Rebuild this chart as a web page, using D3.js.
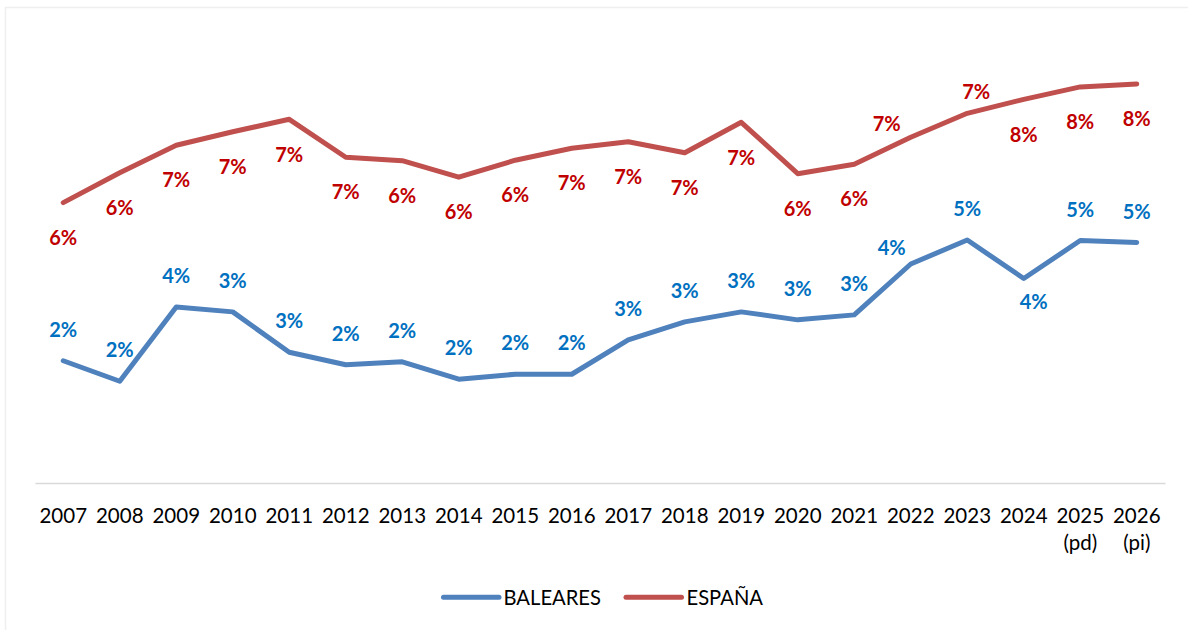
<!DOCTYPE html>
<html>
<head>
<meta charset="utf-8">
<script src="https://cdn.jsdelivr.net/npm/d3@7"></script>
<style>
  html, body { margin: 0; padding: 0; background: #fff; }
  svg { display: block; }
  text { font-family: Lato, "Open Sans", sans-serif; }
</style>
</head>
<body>
<svg id="chart" width="1188" height="630"></svg>
<script>
// ---- data ----
const years = ["2007","2008","2009","2010","2011","2012","2013","2014","2015","2016",
               "2017","2018","2019","2020","2021","2022","2023","2024","2025","2026"];
const yearNotes = ["","","","","","","","","","","","","","","","","","","(pd)","(pi)"];
const baleares = [2.45, 2.04, 3.53, 3.43, 2.62, 2.37, 2.43, 2.08, 2.18, 2.18,
                  2.87, 3.23, 3.43, 3.27, 3.37, 4.39, 4.87, 4.10, 4.86, 4.82];
const espana   = [5.62, 6.22, 6.77, 7.04, 7.29, 6.53, 6.46, 6.13, 6.47, 6.71,
                  6.84, 6.62, 7.23, 6.20, 6.39, 6.93, 7.41, 7.69, 7.94, 8.00];
const seriesNames = ["BALEARES", "ESPAÑA"];

// ---- layout / style ----
const svg = d3.select("#chart");
const W = 1188, H = 630;
const lineColors = ["#4F81BD", "#C0504D"];
const labelColors = ["#0070C0", "#C00000"];
const labelDy = [-31, 35];
const labelAdjust = {
  "0-2022": [-19, -16],
  "0-2024": [10, 23.5],
  "1-2022": [-24, -13],
  "1-2023": [9, -22]
};

// chart border
svg.append("rect")
  .attr("x", 5.5).attr("y", 7.5)
  .attr("width", W + 20).attr("height", H + 20)
  .attr("fill", "#fff").attr("stroke", "#EFEFEF").attr("stroke-width", 1.5);

const x = d3.scaleBand().domain(years).range([35, 1165]).padding(0);
const y = d3.scaleLinear().domain([0, 9]).range([483, 34]);
const cx = d => x(d) + x.bandwidth() / 2;

// category axis
const axis = d3.axisBottom(x).tickSize(0).tickPadding(0);
const gAxis = svg.append("g").attr("transform", `translate(0,${y(0)})`).call(axis);
gAxis.select(".domain").attr("stroke", "#D9D9D9").attr("stroke-width", 1.5);
gAxis.selectAll(".tick text").remove();
gAxis.selectAll(".tick").each(function(d, i) {
  const t = d3.select(this).append("text")
    .attr("fill", "#000")
    .attr("font-size", 20.5)
    .attr("text-anchor", "middle")
    .attr("y", 39.5)
    .text(d);
  if (yearNotes[i]) {
    d3.select(this).append("text")
      .attr("fill", "#000")
      .attr("font-size", 20.5)
      .attr("text-anchor", "middle")
      .attr("y", 67)
      .text(yearNotes[i]);
  }
});

// lines
const data = [baleares, espana];
const line = d3.line().x((d, i) => cx(years[i])).y(d => y(d));
data.forEach((vals, s) => {
  svg.append("path")
    .datum(vals)
    .attr("d", line)
    .attr("fill", "none")
    .attr("stroke", lineColors[s])
    .attr("stroke-width", 5)
    .attr("stroke-linejoin", "round")
    .attr("stroke-linecap", "round");
});

// data labels
const fmt = d3.format(".0%");
data.forEach((vals, s) => {
  svg.append("g").selectAll("text")
    .data(vals)
    .join("text")
    .attr("x", (d, i) => cx(years[i]) + ((labelAdjust[s + "-" + years[i]] || [0, 0])[0]))
    .attr("y", (d, i) => {
      const adj = labelAdjust[s + "-" + years[i]];
      return y(d) + (adj ? adj[1] : labelDy[s]) + 7.2;
    })
    .attr("text-anchor", "middle")
    .attr("font-size", 20)
    .attr("font-weight", "bold")
    .attr("fill", labelColors[s])
    .text(d => fmt(d / 100));
});

// legend
const legendItems = [
  { x1: 443.5, x2: 499, tx: 503.5 },
  { x1: 626, x2: 681.5, tx: 686.5 }
];
const gLeg = svg.append("g");
seriesNames.forEach((name, s) => {
  const it = legendItems[s];
  gLeg.append("line")
    .attr("x1", it.x1).attr("x2", it.x2)
    .attr("y1", 597.3).attr("y2", 597.3)
    .attr("stroke", lineColors[s])
    .attr("stroke-width", 5)
    .attr("stroke-linecap", "round");
  gLeg.append("text")
    .attr("x", it.tx).attr("y", 604.7)
    .attr("font-size", 20.2)
    .attr("fill", "#000")
    .text(name);
});
</script>
</body>
</html>
